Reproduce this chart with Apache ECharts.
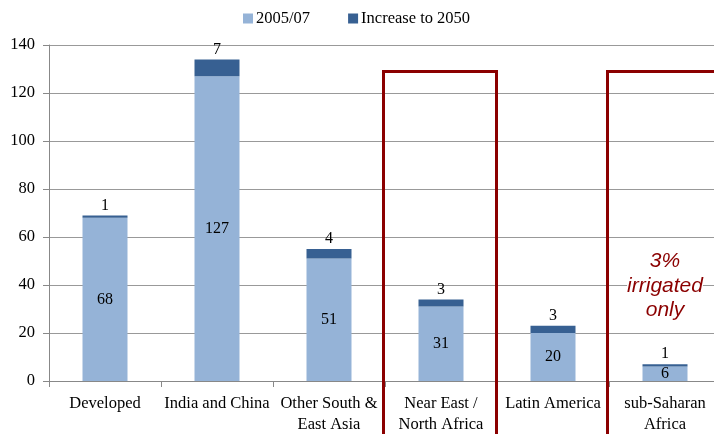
<!DOCTYPE html>
<html><head><meta charset="utf-8">
<script src="https://cdn.jsdelivr.net/npm/echarts@6/dist/echarts.min.js"></script>
<style>html,body{margin:0;padding:0;background:#fff}#c{width:714px;height:434px}</style>
</head><body><div id="c"></div>
<script>
const categories = ['Developed','India and China','Other South &\nEast Asia','Near East /\nNorth Africa','Latin America','sub-Saharan\nAfrica'];
const base2005 = [68,127,51,31,20,6];
const increase2050 = [1,7,4,3,3,1];
const yTicks = [0,20,40,60,80,100,120,140];
const boxedCategories = [3,5];
const boxTopValue = 129;
const noteText = '3%\nirrigated\nonly';
const noteCategory = 5;
const noteValue = 40;

const serif = '"Liberation Serif","Times New Roman",serif';
const chart = echarts.init(document.getElementById('c'));
chart.setOption({
  animation:false,
  legend:{top:5,left:238,itemWidth:10,itemHeight:10,itemGap:38,icon:'rect',
    textStyle:{fontFamily:serif,fontSize:16.5,color:'#000',padding:[0,0,0,-2]},
    data:['2005/07','Increase to 2050']},
  grid:{left:49,top:45,right:-7,bottom:53,outerBoundsMode:'none',containLabel:false},
  xAxis:{type:'category',data:categories,
    axisLine:{lineStyle:{color:'#888',width:1}},
    axisTick:{show:true,length:6,lineStyle:{color:'#888'}},
    axisLabel:{interval:0,fontFamily:serif,fontSize:16.5,color:'#000',lineHeight:21,margin:12}},
  yAxis:{type:'value',min:yTicks[0],max:yTicks[yTicks.length-1],interval:20,
    axisLine:{show:true,lineStyle:{color:'#888'}},
    axisTick:{show:true,length:6,lineStyle:{color:'#888'}},
    axisLabel:{fontFamily:serif,fontSize:16.5,color:'#000',margin:14},
    splitLine:{lineStyle:{color:'#999',width:1}}},
  series:[
    {name:'2005/07',type:'bar',stack:'s',barWidth:45,data:base2005,
      itemStyle:{color:'#95B3D7'},
      label:{show:true,position:'inside',fontFamily:serif,fontSize:16,color:'#000'}},
    {name:'Increase to 2050',type:'bar',stack:'s',barWidth:45,data:increase2050,
      itemStyle:{color:'#376092'},
      label:{show:true,position:'top',distance:2,fontFamily:serif,fontSize:16,color:'#000'}}
  ]
});

const c0 = chart.convertToPixel({xAxisIndex:0}, 0);
const c1 = chart.convertToPixel({xAxisIndex:0}, 1);
const band = c1 - c0;
const topY = chart.convertToPixel({yAxisIndex:0}, boxTopValue);
const graphics = boxedCategories.map(i=>{
  const cx = chart.convertToPixel({xAxisIndex:0}, i);
  return {type:'rect',z:100,shape:{x:cx-band/2-1.5,y:topY,width:band+1,height:460-topY},
    style:{fill:'none',stroke:'#8B0000',lineWidth:3}};
});
const nx = chart.convertToPixel({xAxisIndex:0}, noteCategory);
const ny = chart.convertToPixel({yAxisIndex:0}, noteValue);
graphics.push({type:'text',z:101,x:nx,y:ny+1,style:{text:noteText,align:'center',verticalAlign:'middle',
  font:'italic 21px "Liberation Sans",Arial,sans-serif',fill:'#8B0000',lineHeight:24.5,
  backgroundColor:'#fff'}});
chart.setOption({graphic:graphics});
</script></body></html>
